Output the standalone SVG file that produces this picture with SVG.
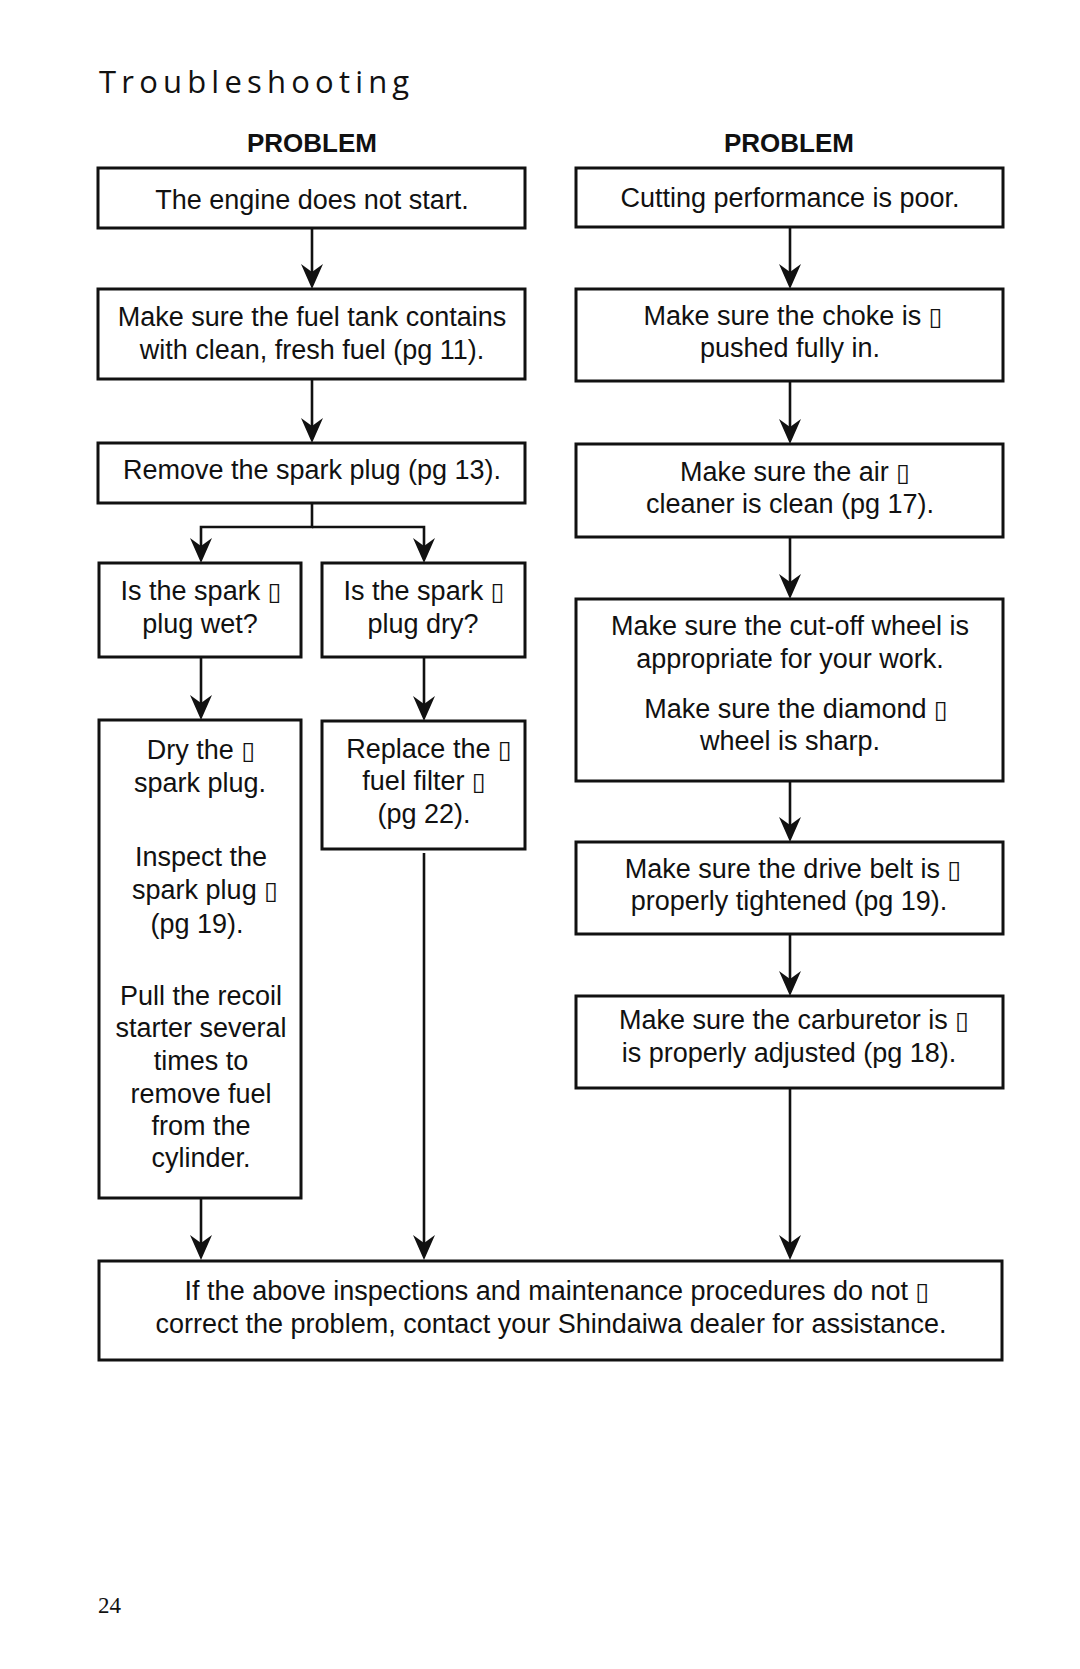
<svg xmlns="http://www.w3.org/2000/svg" width="1080" height="1669" viewBox="0 0 1080 1669">
<style>
.bg{fill:#ffffff}
.box{fill:#ffffff;stroke:#111;stroke-width:3}
.t{font-family:"Liberation Sans",Arial,sans-serif;font-size:27px;fill:#111;text-anchor:middle}
.hd{font-family:"Liberation Sans",Arial,sans-serif;font-size:26px;font-weight:bold;fill:#111;text-anchor:middle}
.title{font-family:"Open Sans","Noto Sans",sans-serif;font-size:31px;fill:#111;letter-spacing:5.2px}
.pg{font-family:"Liberation Serif","Times New Roman",serif;font-size:23px;fill:#111}
.tf{font-family:"DejaVu Sans",sans-serif;font-size:25px}
.c{fill:none;stroke:#111;stroke-width:2.6}
</style>
<defs>
<marker id="ah" markerUnits="userSpaceOnUse" viewBox="-25 -12 26 24" refX="-12" refY="0" markerWidth="26" markerHeight="24" orient="auto">
<path d="M0,0 L-25,-11 L-17,0 L-25,11 Z" fill="#111"/>
</marker>
</defs>
<rect class="bg" x="0" y="0" width="1080" height="1669"/>
<text class="title" x="99" y="93">Troubleshooting</text>
<text class="hd" x="312" y="152">PROBLEM</text>
<text class="hd" x="789" y="152">PROBLEM</text>

<g id="connectors">
<path class="c" d="M312,228 V277" marker-end="url(#ah)"/>
<path class="c" d="M312,379 V431" marker-end="url(#ah)"/>
<path class="c" d="M312,503 V527 H201 V551" marker-end="url(#ah)"/>
<path class="c" d="M312,527 H424 V551" marker-end="url(#ah)"/>
<path class="c" d="M201,657 V708" marker-end="url(#ah)"/>
<path class="c" d="M424,657 V709" marker-end="url(#ah)"/>
<path class="c" d="M201,1198 V1248" marker-end="url(#ah)"/>
<path class="c" d="M424,853 V1248" marker-end="url(#ah)"/>
<path class="c" d="M790,227 V277" marker-end="url(#ah)"/>
<path class="c" d="M790,381 V432" marker-end="url(#ah)"/>
<path class="c" d="M790,537 V587" marker-end="url(#ah)"/>
<path class="c" d="M790,781 V830" marker-end="url(#ah)"/>
<path class="c" d="M790,934 V984" marker-end="url(#ah)"/>
<path class="c" d="M790,1088 V1248" marker-end="url(#ah)"/>
</g>

<g id="n-engine">
<rect class="box" x="98" y="168" width="427" height="60"/>
<text class="t" x="312" y="209">The engine does not start.</text>
</g>
<g id="n-fuel">
<rect class="box" x="98" y="289" width="427" height="90"/>
<text class="t" x="312" y="326">Make sure the fuel tank contains</text>
<text class="t" x="312" y="359">with clean, fresh fuel (pg 11).</text>
</g>
<g id="n-remove">
<rect class="box" x="98" y="443" width="427" height="60"/>
<text class="t" x="312" y="479">Remove the spark plug (pg 13).</text>
</g>
<g id="n-wet">
<rect class="box" x="99" y="563" width="202" height="94"/>
<text class="t" x="201" y="600">Is the spark <tspan class="tf">▯</tspan></text>
<text class="t" x="200" y="633">plug wet?</text>
</g>
<g id="n-dry">
<rect class="box" x="322" y="563" width="203" height="94"/>
<text class="t" x="424" y="600">Is the spark <tspan class="tf">▯</tspan></text>
<text class="t" x="423" y="633">plug dry?</text>
</g>
<g id="n-dryplug">
<rect class="box" x="99" y="720" width="202" height="478"/>
<text class="t" x="201" y="759">Dry the <tspan class="tf">▯</tspan></text>
<text class="t" x="200" y="792">spark plug.</text>
<text class="t" x="201" y="866">Inspect the</text>
<text class="t" x="205" y="899">spark plug <tspan class="tf">▯</tspan></text>
<text class="t" x="197" y="933">(pg 19).</text>
<text class="t" x="201" y="1005">Pull the recoil</text>
<text class="t" x="201" y="1037">starter several</text>
<text class="t" x="201" y="1070">times to</text>
<text class="t" x="201" y="1103">remove fuel</text>
<text class="t" x="201" y="1135">from the</text>
<text class="t" x="201" y="1167">cylinder.</text>
</g>
<g id="n-replace">
<rect class="box" x="322" y="721" width="203" height="128"/>
<text class="t" x="429" y="758">Replace the <tspan class="tf">▯</tspan></text>
<text class="t" x="424" y="790">fuel filter <tspan class="tf">▯</tspan></text>
<text class="t" x="424" y="823">(pg 22).</text>
</g>
<g id="n-cutting">
<rect class="box" x="576" y="168" width="427" height="59"/>
<text class="t" x="790" y="207">Cutting performance is poor.</text>
</g>
<g id="n-choke">
<rect class="box" x="576" y="289" width="427" height="92"/>
<text class="t" x="793" y="325">Make sure the choke is <tspan class="tf">▯</tspan></text>
<text class="t" x="790" y="357">pushed fully in.</text>
</g>
<g id="n-air">
<rect class="box" x="576" y="444" width="427" height="93"/>
<text class="t" x="795" y="481">Make sure the air <tspan class="tf">▯</tspan></text>
<text class="t" x="790" y="513">cleaner is clean (pg 17).</text>
</g>
<g id="n-wheel">
<rect class="box" x="576" y="599" width="427" height="182"/>
<text class="t" x="790" y="635">Make sure the cut-off wheel is</text>
<text class="t" x="790" y="668">appropriate for your work.</text>
<text class="t" x="796" y="718">Make sure the diamond <tspan class="tf">▯</tspan></text>
<text class="t" x="790" y="750">wheel is sharp.</text>
</g>
<g id="n-belt">
<rect class="box" x="576" y="842" width="427" height="92"/>
<text class="t" x="793" y="878">Make sure the drive belt is <tspan class="tf">▯</tspan></text>
<text class="t" x="789" y="910">properly tightened (pg 19).</text>
</g>
<g id="n-carb">
<rect class="box" x="576" y="996" width="427" height="92"/>
<text class="t" x="794" y="1029">Make sure the carburetor is <tspan class="tf">▯</tspan></text>
<text class="t" x="789" y="1062">is properly adjusted (pg 18).</text>
</g>
<g id="n-final">
<rect class="box" x="99" y="1261" width="903" height="99"/>
<text class="t" x="557" y="1300">If the above inspections and maintenance procedures do not <tspan class="tf">▯</tspan></text>
<text class="t" x="551" y="1333">correct the problem, contact your Shindaiwa dealer for assistance.</text>
</g>
<text class="pg" x="98" y="1613">24</text>
</svg>
